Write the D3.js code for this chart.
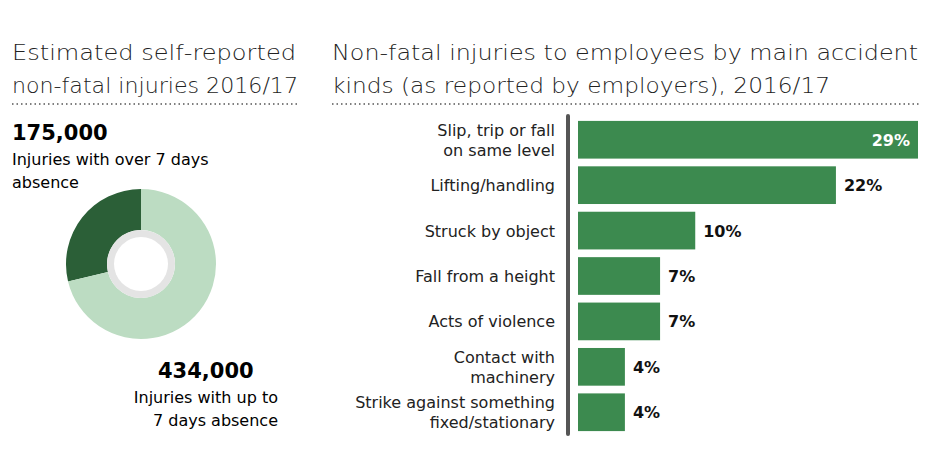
<!DOCTYPE html>
<html><head><meta charset="utf-8">
<script src="https://cdn.jsdelivr.net/npm/d3@7"></script>
<style>body{margin:0;background:#fff}text{font-family:"DejaVu Sans",sans-serif}</style>
</head><body>
<script>
var categories = [["Slip, trip or fall","on same level"],["Lifting/handling"],["Struck by object"],["Fall from a height"],["Acts of violence"],["Contact with","machinery"],["Strike against something","fixed/stationary"]];
var percents = [29, 22, 10, 7, 7, 4, 4];
var donutValues = [175000, 434000];
var donutLabels = ["175,000", "434,000"];

var width = 939, height = 468;
var svg = d3.select("body").append("svg").attr("width", width).attr("height", height);

// titles
function title(x, lines, len) {
    lines.forEach(function(t, i) {
        svg.append("text").attr("x", x).attr("y", 60 + i * 33).attr("font-size", 22).attr("font-weight", 300).attr("fill", "#222")
            .attr("textLength", len[i]).attr("lengthAdjust", "spacingAndGlyphs").text(t);
    });
}
title(12, ["Estimated self-reported", "non-fatal injuries 2016/17"], [284, 286]);
title(332, ["Non-fatal injuries to employees by main accident", "kinds (as reported by employers), 2016/17"], [586, 498]);
[[12, 300], [332, 920]].forEach(function(s) {
    svg.append("line").attr("x1", s[0]).attr("x2", s[1]).attr("y1", 104).attr("y2", 104)
        .attr("stroke", "#555").attr("stroke-width", 1.5).attr("stroke-dasharray", "1.5,3");
});

// donut
var startA = -2 * Math.PI * donutValues[0] / d3.sum(donutValues);
var pie = d3.pie().sort(null).startAngle(startA).endAngle(2 * Math.PI + startA);
var arc = d3.arc().innerRadius(34).outerRadius(75);
var g = svg.append("g").attr("transform", "translate(141,264)");
g.selectAll("path").data(pie(donutValues)).enter().append("path").attr("d", arc)
    .attr("fill", function(d, i) { return i === 0 ? "#2b5f37" : "#bcdcc2"; });
g.append("circle").attr("r", 34).attr("fill", "#e4e4e4");
g.append("circle").attr("r", 27).attr("fill", "#fff");

svg.append("text").attr("x", 12).attr("y", 140).attr("font-size", 21).attr("font-weight", "bold").text(donutLabels[0]);
svg.append("text").attr("x", 12).attr("y", 165).attr("font-size", 16).text("Injuries with over 7 days");
svg.append("text").attr("x", 12).attr("y", 188).attr("font-size", 16).text("absence");
svg.append("text").attr("x", 158).attr("y", 378).attr("font-size", 21).attr("font-weight", "bold").text(donutLabels[1]);
svg.append("text").attr("x", 278).attr("y", 403).attr("text-anchor", "end").attr("font-size", 16).text("Injuries with up to");
svg.append("text").attr("x", 278).attr("y", 426).attr("text-anchor", "end").attr("font-size", 16).text("7 days absence");

// bars
var x = d3.scaleLinear().domain([0, 29]).range([578, 918]);
var y = d3.scaleBand().domain(d3.range(percents.length)).range([120, 432]).paddingInner(0.17).paddingOuter(0.02);
svg.append("line").attr("x1", 568).attr("x2", 568).attr("y1", 116).attr("y2", 434)
    .attr("stroke", "#555").attr("stroke-width", 4).attr("stroke-linecap", "round");
svg.selectAll("rect.bar").data(percents).enter().append("rect").attr("class", "bar")
    .attr("x", x(0)).attr("y", function(d, i) { return y(i); })
    .attr("width", function(d) { return x(d) - x(0); }).attr("height", y.bandwidth())
    .attr("fill", "#3c8a4f");
svg.selectAll("text.val").data(percents).enter().append("text").attr("class", "val")
    .attr("x", function(d, i) { return i === 0 ? x(d) - 8 : x(d) + 8; })
    .attr("text-anchor", function(d, i) { return i === 0 ? "end" : "start"; })
    .attr("y", function(d, i) { return y(i) + y.bandwidth() / 2 + 6; })
    .attr("font-size", 16).attr("font-weight", "bold")
    .attr("fill", function(d, i) { return i === 0 ? "#fff" : "#111"; })
    .text(function(d) { return d + "%"; });
categories.forEach(function(lines, i) {
    var cy = y(i) + y.bandwidth() / 2;
    lines.forEach(function(t, j) {
        svg.append("text").attr("x", 555).attr("text-anchor", "end").attr("font-size", 16).attr("fill", "#222")
            .attr("y", cy + 6 + (j - (lines.length - 1) / 2) * 20).text(t);
    });
});
</script>
</body></html>
